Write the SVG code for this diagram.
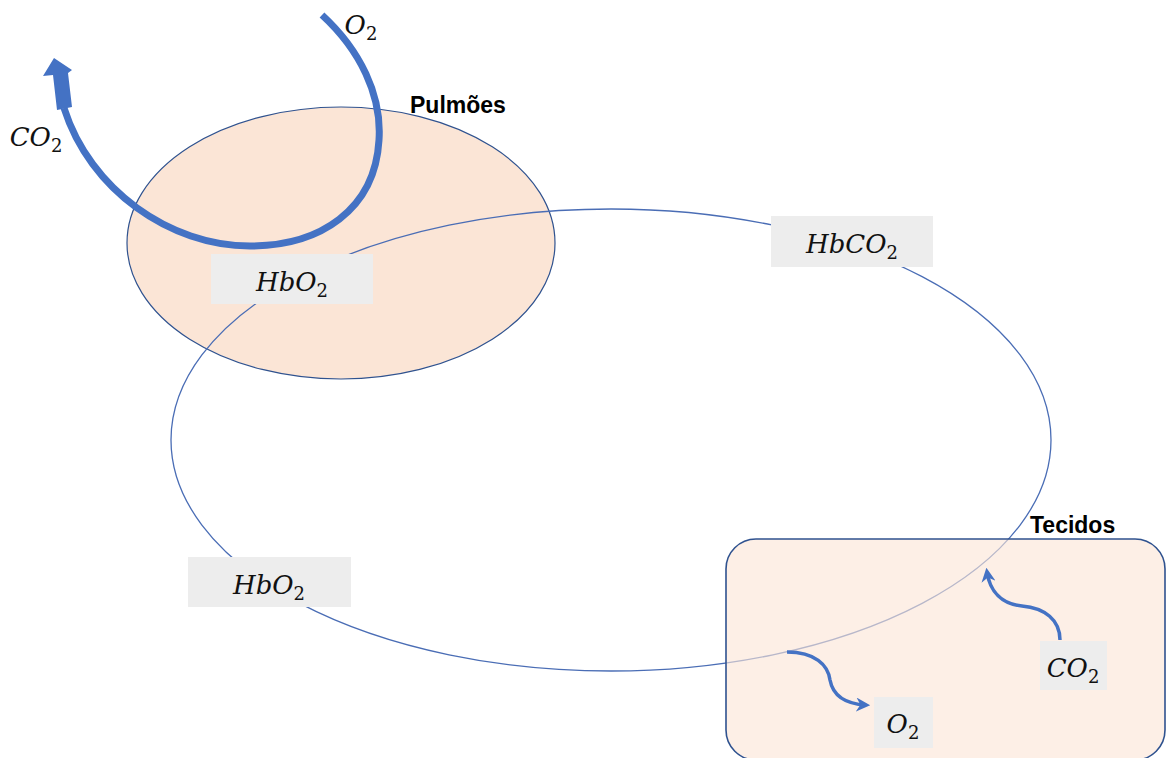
<svg xmlns="http://www.w3.org/2000/svg" width="1167" height="758" viewBox="0 0 1167 758">
  <style>
    .label-box { fill: #EDEDED; }
    .math { font-family: "DejaVu Serif", "Liberation Serif", serif; font-style: italic; font-size: 26px; fill: #111; }
    .sub { font-size: 18px; font-style: normal; }
    .title { font-family: "Liberation Sans", Arial, sans-serif; font-weight: bold; font-size: 23px; fill: #000; }
    .flow { fill: none; stroke: #4472C4; stroke-linecap: butt; }
  </style>
  <defs>
    <marker id="head" viewBox="0 0 10 10" refX="7" refY="5" markerWidth="4" markerHeight="4" orient="auto" markerUnits="strokeWidth">
      <path d="M0,0 L10,5 L0,10 L3,5 Z" fill="#4472C4"/>
    </marker>
  </defs>
  <rect width="1167" height="758" fill="#FFFFFF"/>

  <!-- lungs region -->
  <g id="pulmoes">
    <ellipse cx="341" cy="243" rx="214" ry="136" fill="#FBE5D6" stroke="#2F528F" stroke-width="1.2"/>
    <text class="title" x="410" y="113">Pulmões</text>
  </g>

  <!-- circulation loop and gas flows -->
  <g id="connectors">
    <ellipse cx="611" cy="440" rx="440" ry="231" fill="none" stroke="#4A6DB5" stroke-width="1.3"/>
    <!-- O2 in, CO2 out at the lungs -->
    <path class="flow" stroke-width="7" d="M 322 15 C 360 50, 382 95, 379 140 C 375 210, 320 246, 250 246 C 170 246, 90 190, 64 108"/>
    <polygon points="57,110 72,107 68,73 72,70 54,58 43,76 53,75" fill="#4472C4"/>
  </g>

  <!-- tissues region -->
  <g id="tecidos">
    <rect x="726" y="539" width="439" height="221" rx="30" ry="30" fill="#FBE5D6" fill-opacity="0.62" stroke="#2F528F" stroke-width="1.6"/>
    <text class="title" x="1030" y="533">Tecidos</text>
  </g>

  <g id="tissue-flows">
    <path class="flow" stroke-width="3.5" marker-end="url(#head)" d="M 787 652 C 815 652, 828 665, 830 680 C 833 696, 846 704, 866 705"/>
    <path class="flow" stroke-width="3.5" marker-end="url(#head)" d="M 1060 640 C 1060 620, 1045 608, 1022 606 C 1002 604, 990 592, 987 572"/>
  </g>

  <!-- labels -->
  <g id="hbo2-top">
    <rect class="label-box" x="211" y="254" width="162" height="50"/>
    <text class="math" x="292" y="291" text-anchor="middle">HbO<tspan class="sub" dy="6">2</tspan></text>
  </g>
  <g id="hbco2">
    <rect class="label-box" x="771" y="216" width="162" height="51"/>
    <text class="math" x="852" y="253" text-anchor="middle">HbCO<tspan class="sub" dy="6">2</tspan></text>
  </g>
  <g id="hbo2-bottom">
    <rect class="label-box" x="188" y="557" width="163" height="50"/>
    <text class="math" x="269" y="594" text-anchor="middle">HbO<tspan class="sub" dy="6">2</tspan></text>
  </g>
  <g id="co2-tissue">
    <rect class="label-box" x="1040" y="641" width="67" height="49"/>
    <text class="math" x="1073" y="677" text-anchor="middle">CO<tspan class="sub" dy="6">2</tspan></text>
  </g>
  <g id="o2-tissue">
    <rect class="label-box" x="874" y="697" width="59" height="51"/>
    <text class="math" x="903" y="733" text-anchor="middle">O<tspan class="sub" dy="6">2</tspan></text>
  </g>
  <g id="co2-out">
    <text class="math" x="36" y="146" text-anchor="middle">CO<tspan class="sub" dy="6">2</tspan></text>
  </g>
  <g id="o2-in">
    <text class="math" x="361" y="34" text-anchor="middle">O<tspan class="sub" dy="6">2</tspan></text>
  </g>
</svg>
